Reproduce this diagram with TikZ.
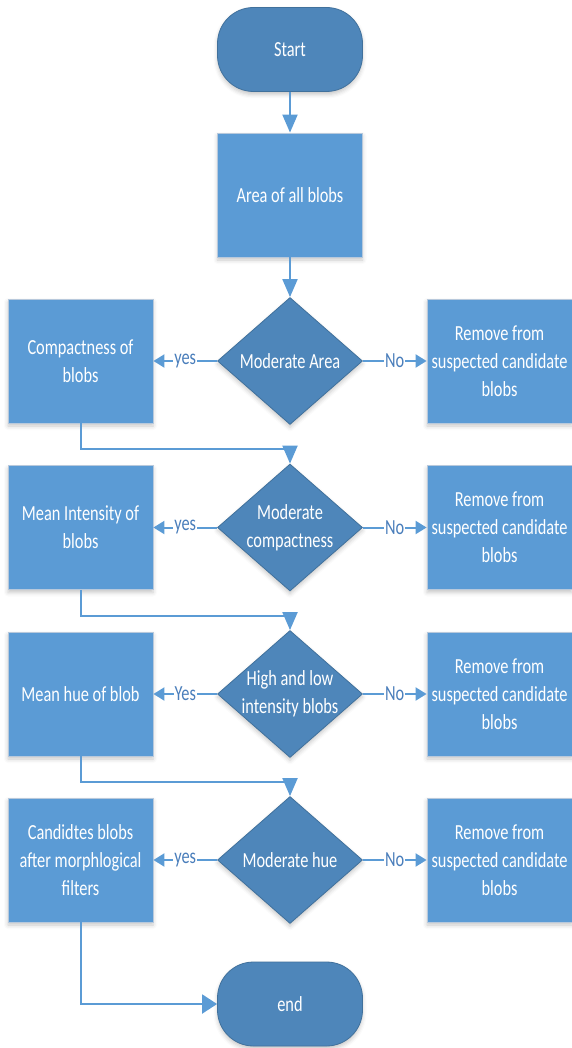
\documentclass[tikz,border=0pt]{standalone}
\usepackage{fontspec}
\setmainfont[FakeStretch=0.76]{Carlito}
\usetikzlibrary{shapes.geometric,arrows.meta,shadows.blur}
\definecolor{boxblue}{HTML}{5B9BD5}
\definecolor{darkblue}{HTML}{4E86BA}
\definecolor{darkedge}{HTML}{41719C}
\definecolor{boxedge}{HTML}{B8C9DC}
\definecolor{labblue}{HTML}{4A7EBB}
\begin{document}
\begin{tikzpicture}[x=1pt,y=-1pt,
  shad/.style={blur shadow={shadow xshift=0pt,shadow yshift=-3pt,shadow blur radius=4pt,shadow opacity=22}},
  base/.style={text=white,align=center,font=\fontsize{21.5}{28}\selectfont,inner sep=0pt},
  proc/.style={base,shad,rectangle,fill=boxblue,draw=boxedge,line width=0.8pt,minimum width=145pt,minimum height=124pt},
  term/.style={base,shad,rectangle,rounded corners=36pt,fill=darkblue,draw=darkedge,line width=0.8pt,minimum width=145pt,minimum height=84pt},
  dec/.style={shad,diamond,fill=darkblue,draw=darkedge,line width=0.8pt,minimum width=145pt,minimum height=127pt,inner sep=0pt},
  dtext/.style={base},
  conn/.style={draw=boxblue,line width=2pt},
  varr/.style={conn,-{Triangle[length=18pt,width=15pt]}},
  harr/.style={conn,-{Triangle[length=11pt,width=13pt]}},
  earr/.style={conn,-{Triangle[length=15pt,width=19pt]}},
  lab/.style={fill=white,text=labblue,font=\fontsize{21.5}{28}\selectfont,inner sep=1pt}
]
\useasboundingbox (0,0) rectangle (571,1048);

\node[term] (start) at (290,49.5) {Start};
\node[proc] (area) at (290,195) {Area of all blobs};

% row 1
\node[dec,label={[dtext]center:Moderate Area}] (d1) at (290,361) {};
\node[proc] (l1) at (80.5,361) {Compactness of\\blobs};
\node[proc] (r1) at (499.5,361) {Remove from\\suspected candidate\\blobs};
% row 2
\node[dec,label={[dtext]center:Moderate\\compactness}] (d2) at (290,527.5) {};
\node[proc] (l2) at (80.5,527.5) {Mean Intensity of\\blobs};
\node[proc] (r2) at (499.5,527.5) {Remove from\\suspected candidate\\blobs};
% row 3
\node[dec,label={[dtext]center:High and low\\intensity blobs}] (d3) at (290,694) {};
\node[proc] (l3) at (80.5,694) {Mean hue of blob};
\node[proc] (r3) at (499.5,694) {Remove from\\suspected candidate\\blobs};
% row 4
\node[dec,label={[dtext]center:Moderate hue}] (d4) at (290,860) {};
\node[proc] (l4) at (80.5,860) {Candidtes blobs\\after morphlogical\\filters};
\node[proc] (r4) at (499.5,860) {Remove from\\suspected candidate\\blobs};

\node[term] (end) at (290,1004) {end};

\draw[varr] (start) -- (area);
\draw[varr] (area) -- (d1);

\draw[harr] (d1) -- node[lab]{yes} (l1);
\draw[harr] (d1) -- node[lab]{No} (r1);
\draw[harr] (d2) -- node[lab]{yes} (l2);
\draw[harr] (d2) -- node[lab]{No} (r2);
\draw[harr] (d3) -- node[lab]{Yes} (l3);
\draw[harr] (d3) -- node[lab]{No} (r3);
\draw[harr] (d4) -- node[lab]{yes} (l4);
\draw[harr] (d4) -- node[lab]{No} (r4);

\draw[varr] (l1.south) -- ++(0,26) -| (d2.north);
\draw[varr] (l2.south) -- ++(0,26) -| (d3.north);
\draw[varr] (l3.south) -- ++(0,26) -| (d4.north);
\draw[earr] (l4.south) |- (end.west);
\end{tikzpicture}
\end{document}
